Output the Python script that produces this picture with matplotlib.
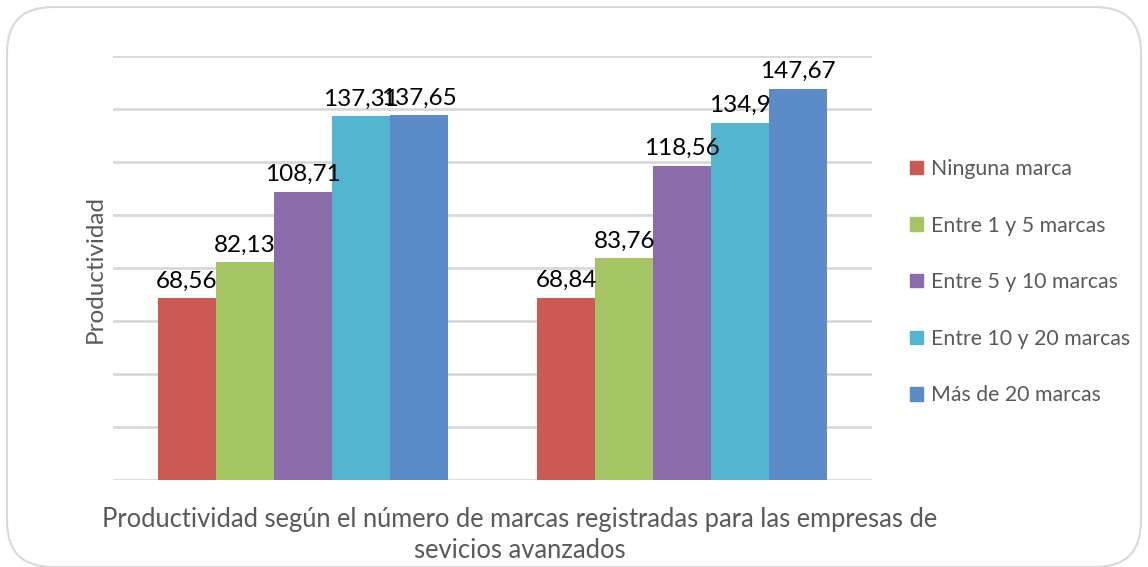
# Gráfico de barras agrupadas: productividad según número de marcas
import matplotlib.pyplot as plt
from matplotlib.patches import FancyBboxPatch, Patch
import numpy as np

plt.rcParams['font.family'] = ['Lato', 'DejaVu Sans']

# Datos
grupos = ["Grupo 1", "Grupo 2"]
series = ["Ninguna marca", "Entre 1 y 5 marcas", "Entre 5 y 10 marcas",
          "Entre 10 y 20 marcas", "Más de 20 marcas"]
ninguna = [68.56, 68.84]
entre_1_5 = [82.13, 83.76]
entre_5_10 = [108.71, 118.56]
entre_10_20 = [137.31, 134.9]
mas_20 = [137.65, 147.67]
valores = [ninguna, entre_1_5, entre_5_10, entre_10_20, mas_20]
colores = ["#CB5A55", "#A5C463", "#8B6CAA", "#54B5D0", "#5B8BC8"]

fig = plt.figure(figsize=(11.48, 5.67), dpi=100)

# Marco redondeado exterior
marco = FancyBboxPatch((7 / 1148, 0.0), 1134 / 1148, 560 / 567,
                       boxstyle="round,pad=0,rounding_size=0.04",
                       transform=fig.transFigure, facecolor="white",
                       edgecolor="#D9D9D9", linewidth=1.5,
                       mutation_aspect=1148 / 567, zorder=-5)
fig.patches.append(marco)

ax = fig.add_axes([113 / 1148, 1 - 480 / 567, 759 / 1148, 424 / 567])
ax.set_facecolor("none")
ax.set_zorder(2)

x = np.arange(len(grupos))
ancho = 0.1528
for i, (nombre, vals, c) in enumerate(zip(series, valores, colores)):
    pos = x + (i - 2) * ancho
    ax.bar(pos, vals, width=ancho, color=c, label=nombre, zorder=3)
    for p, v in zip(pos, vals):
        etiqueta = f"{v:g}".replace(".", ",")
        ax.text(p, v + 2.5, etiqueta, ha="center", va="bottom",
                fontsize=17.5, color="black", zorder=4)

ax.set_xlim(-0.5, 1.5)
ax.set_ylim(0, 160)
ax.set_yticks(np.arange(0, 161, 20))
ax.yaxis.grid(True, color="#D9D9D9", linewidth=2)
ax.set_axisbelow(True)
ax.tick_params(left=False, bottom=False, labelleft=False, labelbottom=False)
for s in ax.spines.values():
    s.set_visible(False)

fig.text(95 / 1148, 1 - 269 / 567, "Productividad", rotation=90,
         ha="center", va="center", fontsize=17.5, color="#595959")
fig.text(520 / 1148, 1 - 535 / 567,
         "Productividad según el número de marcas registradas para las empresas de\nsevicios avanzados",
         ha="center", va="center", fontsize=18.4, color="#595959",
         linespacing=1.25)

handles = [Patch(color=c) for c in colores]
fig.legend(handles, series, loc="upper left",
           bbox_to_anchor=(891 / 1148, 1 - 140 / 567), frameon=False,
           fontsize=15.3, labelcolor="#595959", handlelength=0.6,
           handleheight=0.6, handletextpad=0.4, labelspacing=1.72)

fig.savefig("out.png", dpi=100)
